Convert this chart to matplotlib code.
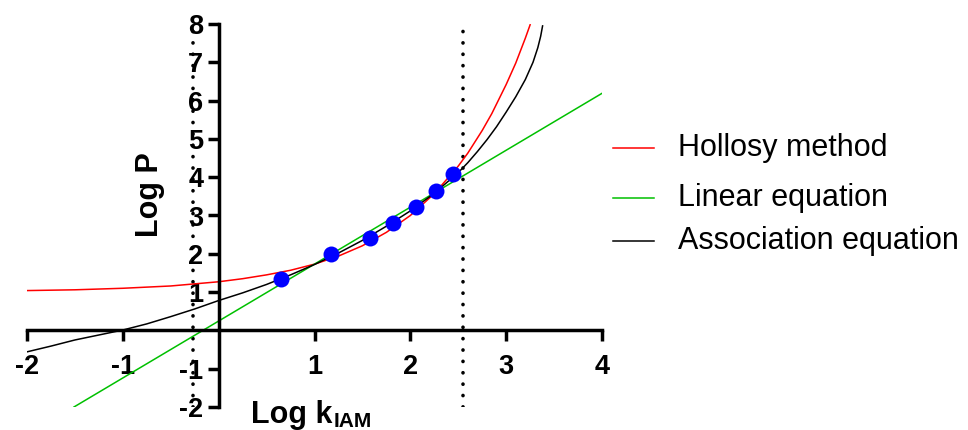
import matplotlib.pyplot as plt
from matplotlib.lines import Line2D

plt.rcParams['font.family'] = ['Liberation Sans', 'DejaVu Sans']
plt.rcParams['axes.unicode_minus'] = False

# measured compounds
log_k = [0.65, 1.17, 1.58, 1.82, 2.06, 2.27, 2.45]
log_p = [1.33, 1.99, 2.40, 2.81, 3.23, 3.65, 4.08]

# fitted curves
hollosy_x = [-2.0, -1.5, -1.0, -0.5, 0.0, 0.25, 0.5, 0.75, 1.0, 1.25, 1.5, 1.75,
             2.0, 2.25, 2.5, 2.6, 2.75, 2.85, 3.0, 3.1, 3.2, 3.25]
hollosy_y = [1.04, 1.06, 1.10, 1.16, 1.27, 1.35, 1.45, 1.57, 1.73, 1.94, 2.21, 2.56,
             3.00, 3.57, 4.29, 4.63, 5.22, 5.66, 6.42, 6.98, 7.63, 7.98]

linear_x = [-1.51, 4.0]
linear_y = [-2.0, 6.19]

assoc_x = [-2.0, -1.75, -1.5, -1.25, -1.0, -0.75, -0.5, -0.25, 0.0, 0.25, 0.5, 0.75,
           1.0, 1.25, 1.5, 1.75, 2.0, 2.25, 2.5, 2.6, 2.7, 2.8, 2.9, 3.0, 3.1, 3.2,
           3.28, 3.33, 3.36, 3.38]
assoc_y = [-0.56, -0.41, -0.25, -0.12, 0.01, 0.17, 0.36, 0.56, 0.78, 0.98, 1.20, 1.45,
           1.72, 2.02, 2.35, 2.72, 3.12, 3.58, 4.12, 4.38, 4.67, 4.98, 5.32, 5.70, 6.10,
           6.55, 7.00, 7.38, 7.68, 7.95]

cutoffs = [-0.27, 2.55]

xticks = [-2, -1, 1, 2, 3, 4]
yticks = [-2, -1, 1, 2, 3, 4, 5, 6, 7, 8]

fig = plt.figure(figsize=(9.68, 4.3), dpi=100)
ax = fig.add_axes([27/968, 23/430, 575/968, 383/430])

ax.plot(hollosy_x, hollosy_y, color='#ff0000', lw=1.1, zorder=3)
ax.plot(linear_x, linear_y, color='#00c000', lw=1.1, zorder=3)
ax.plot(assoc_x, assoc_y, color='black', lw=1.1, zorder=3)
for c in cutoffs:
    ax.plot([c, c], [-2, 8], color='black', lw=2.6, ls=(0, (0.05, 3.1)),
            dash_capstyle='round', zorder=2)
ax.plot(log_k, log_p, 'o', color='#0000ff', ms=11.5, mec='none', zorder=4)

ax.set_xlim(-2, 4)
ax.set_ylim(-2, 8)
ax.spines['left'].set_position(('data', 0))
ax.spines['bottom'].set_position(('data', 0))
ax.spines['right'].set_visible(False)
ax.spines['top'].set_visible(False)
for s in ['left', 'bottom']:
    ax.spines[s].set_linewidth(2.5)
    ax.spines[s].set_zorder(5)
    ax.spines[s].set_capstyle('projecting')
ax.set_xticks(xticks)
ax.set_xticklabels([str(v) for v in xticks], fontsize=19.5, fontweight='bold')
ax.set_yticks(yticks)
ax.set_yticklabels([str(v) for v in yticks], fontsize=19.5, fontweight='bold')
ax.tick_params(axis='both', direction='out', length=8, width=2.5)
ax.tick_params(axis='x', pad=9)
ax.tick_params(axis='y', pad=3)
ax.patch.set_visible(False)

# axis titles
fig.text(150/968, 1 - 195/430, 'Log P', rotation=90, fontsize=22, fontweight='bold',
         ha='center', va='center')
fig.text(251/968, 1 - 423/430, 'Log k', fontsize=22, fontweight='bold',
         ha='left', va='baseline')
fig.text(334/968, 1 - 427/430, 'IAM', fontsize=15, fontweight='bold',
         ha='left', va='baseline')

# legend
legend_items = [('Hollosy method', '#ff0000', 148),
                ('Linear equation', '#00c000', 198),
                ('Association equation', 'black', 241)]
for name, col, yp in legend_items:
    yf = 1 - yp/430
    fig.add_artist(Line2D([613/968, 654/968], [yf, yf], color=col, lw=1.1))
    fig.text(678/968, yf, name, fontsize=22, ha='left', va='center')

fig.savefig('out.png', dpi=100)
